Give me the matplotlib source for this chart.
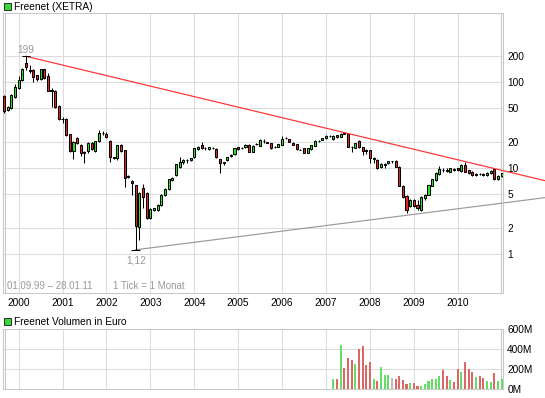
import matplotlib
matplotlib.use("Agg")
import matplotlib.pyplot as plt
import numpy as np
from matplotlib.patches import Rectangle

plt.rcParams['font.family'] = ['Liberation Sans', 'DejaVu Sans']

# ---------------- data (monthly candles, Sep 1999 - Jan 2011) ----------------
start_year, start_month = 1999, 9
opens = [68.7, 47.2, 50.3, 67.5, 84.4, 105.5, 164.9, 138, 138, 120.6,
         107.4, 140.4, 117.4, 80, 78.6, 52.6, 37.5, 37.6, 24.9, 15.8,
         22.1, 18.5, 15.0, 15.8, 19.4, 15.9, 20.8, 25.5, 24.6, 20.4,
         13.3, 12.95, 18.5, 16.2, 7.79, 7.06, 6.34, 2.04, 5.80, 5.08,
         2.60, 3.25, 3.25, 3.71, 4.85, 5.65, 7.25, 8.22, 10.4, 11.6,
         12.4, 12.4, 13.3, 16.5, 18.5, 17.2, 16.5, 16.9, 16.5, 12.6,
         11.3, 12.4, 13.8, 14.4, 17.4, 17.0, 17.4, 18.5, 15.5, 18.8,
         18.0, 20.8, 19.8, 19.4, 17.6, 17.7, 18.5, 22.1, 21.5, 19.7,
         18.8, 16.4, 16.9, 15.1, 16.5, 18.0, 20.6, 21.2, 22.1, 23.6,
         21.5, 24.2, 23.1, 25.3, 24.9, 17.7, 17.2, 20.8, 17.4, 16.1,
         16.2, 12.7, 12.4, 10.3, 10.9, 11.3, 12.0, 12.1, 10.4, 6.18,
         4.72, 3.61, 4.25, 3.71, 3.25, 4.44, 4.85, 6.23, 7.25, 8.51,
         9.55, 9.6, 9.07, 9.7, 9.9, 9.23, 10.8, 9.48, 9.07, 8.4,
         8.55, 8.6, 8.29, 8.67, 9.65, 7.38, 8.07]
highs = [70, 52, 72, 94, 117, 145, 199, 157.7, 140, 122,
         142, 142, 126, 85, 80, 54, 39.5, 38, 25, 20.5,
         23, 19, 15.8, 20, 19.8, 20.8, 27.7, 27.2, 26.5, 21,
         13.5, 18.7, 19, 16.4, 8.3, 7.2, 6.4, 5.3, 6.46, 5.2,
         3.4, 3.45, 3.8, 5.0, 5.8, 7.5, 7.9, 11.2, 13.5, 12.6,
         12.6, 13.1, 17.2, 18.0, 19.9, 17.6, 17.7, 17.4, 16.9, 12.8,
         11.85, 13.5, 14.4, 17.2, 17.7, 17.7, 18.8, 18.8, 18.3, 19.4,
         21.5, 21.6, 19.9, 19.7, 18.0, 19.2, 23.8, 22.9, 21.8, 19.9,
         19.0, 16.8, 17.0, 17.1, 18.7, 21.0, 21.0, 22.4, 24.0, 24.0,
         23.9, 24.5, 25.2, 25.8, 25.3, 17.8, 19.7, 21.0, 17.6, 16.8,
         16.4, 13.3, 12.6, 11.3, 11.3, 12.2, 12.2, 12.3, 10.5, 6.3,
         4.8, 4.35, 4.35, 4.25, 4.7, 5.0, 6.4, 7.5, 9.0, 10.55,
         9.9, 9.9, 10.1, 9.9, 10.0, 11.0, 11.85, 9.6, 9.2, 8.8,
         8.7, 8.75, 8.9, 9.5, 9.8, 8.2, 8.8]
lows = [43.2, 46, 48, 66, 83, 104, 138, 128, 101, 104,
        105, 108, 78, 51, 50, 36, 33.1, 23.5, 15.5, 12.6,
        19, 13.8, 11.3, 15, 16, 15.5, 20, 24.2, 22.4, 11.85,
        12.6, 12.5, 15.5, 6.07, 7.6, 4.85, 1.12, 1.45, 3.40, 2.55,
        2.55, 3.2, 3.2, 3.6, 4.7, 5.5, 7.0, 8.1, 10.0, 11.0,
        11.3, 12.2, 13.0, 16.2, 16.5, 16.2, 16.2, 16.5, 13.0, 8.83,
        10.8, 12.2, 13.6, 14.2, 16.2, 16.8, 17.2, 15.3, 15.3, 18.5,
        17.8, 19.7, 19.5, 16.7, 17.2, 17.5, 18.3, 21.8, 20.0, 18.3,
        16.3, 16.0, 14.9, 14.9, 16.3, 17.8, 20.2, 21.0, 21.9, 23.0,
        21.2, 22.5, 22.9, 24.8, 17.5, 15.5, 17.0, 17.2, 14.2, 14.5,
        11.3, 11.3, 9.65, 10.1, 9.9, 11.1, 11.3, 10.2, 6.1, 4.5,
        2.97, 3.5, 3.5, 3.25, 3.2, 4.3, 4.8, 6.1, 7.1, 8.4,
        9.1, 9.0, 8.9, 9.3, 9.3, 9.1, 8.9, 8.5, 8.1, 8.0,
        8.2, 8.0, 8.1, 8.5, 7.3, 7.3, 7.9]
closes = [46.4, 50.7, 70.6, 88.2, 105.5, 141.6, 148, 136, 115, 107.4,
          140.4, 110.3, 79.3, 78, 51.7, 36.8, 37, 24.2, 15.9, 20,
          19.4, 14.8, 15.3, 19.7, 16.5, 20.4, 25.8, 25.2, 22.7, 13.3,
          13.0, 18.5, 15.9, 7.58, 8.15, 6.63, 2.12, 5.17, 4.64, 2.60,
          3.31, 3.40, 3.71, 4.85, 5.65, 7.38, 7.72, 11.0, 11.85, 12.4,
          12.3, 12.95, 16.9, 17.7, 16.9, 17.0, 17.4, 16.9, 13.3, 11.3,
          11.6, 13.3, 14.2, 16.9, 16.5, 17.2, 18.5, 15.5, 18.0, 19.0,
          21.2, 20.5, 19.7, 16.9, 17.5, 19.0, 21.5, 22.4, 20.2, 18.5,
          16.5, 16.3, 15.1, 16.9, 18.5, 20.8, 20.7, 22.1, 23.8, 23.4,
          23.6, 22.7, 24.9, 25.1, 17.7, 17.4, 19.4, 17.4, 15.9, 15.9,
          12.95, 12.9, 10.0, 11.0, 11.1, 12.1, 12.0, 10.4, 6.2, 4.64,
          3.25, 4.25, 3.61, 3.40, 4.64, 4.85, 6.34, 7.38, 8.83, 9.65,
          9.45, 9.2, 9.91, 9.6, 9.6, 10.8, 9.07, 8.67, 8.29, 8.5,
          8.45, 8.4, 8.83, 9.31, 7.38, 8.07, 8.67]

# volume (millions of euro), monthly from Mar 2007 to Jan 2011
vol_first_index = 90
volumes = [103, 103, 443, 213, 310, 293, 253, 400, 433, 243,
           273, 103, 83, 223, 143, 143, 113, 103, 133, 93,
           53, 63, 63, 33, 33, 53, 83, 103, 103, 133,
           193, 133, 93, 73, 203, 173, 273, 203, 173, 123,
           133, 113, 83, 73, 163, 83, 103]

# trend lines (anchor points)
red_trend_x = [2000 + 2 / 12, 2011.0]
red_trend_y = [199, 9.4]
gray_trend_x = [2002 + 8 / 12, 2011.0]
gray_trend_y = [1.12, 3.9]

year_labels = [str(y) for y in range(2000, 2011)]
price_ticks = [1, 2, 5, 10, 20, 50, 100, 200]
price_tick_labels = ['1', '2', '5', '10', '20', '50', '100', '200']
vol_ticks = [0, 200, 400, 600]
vol_tick_labels = ['0M', '200M', '400M', '600M']

# ---------------- styling ----------------
W, H = 545, 398
GRID = '#dcdcdc'
BORDER = '#c8c8c8'
GREEN = '#22ee22'
RED = '#ee2222'
VGREEN = '#66dd66'
VRED = '#dd6666'
VGRAY = '#bbbbbb'
FS = 7.3

fig = plt.figure(figsize=(W / 100, H / 100), dpi=100)
fig.patch.set_facecolor('white')


def px_axes(left, top, right, bottom):
    return [left / W, 1 - bottom / H, (right - left) / W, (bottom - top) / H]


L_PX, R_PX = 3, 503
ax = fig.add_axes(px_axes(L_PX, 13, R_PX, 293))
axv = fig.add_axes(px_axes(L_PX, 329, R_PX, 389))

n = len(opens)
xs = start_year + (start_month - 1) / 12 + np.arange(n) / 12
o = np.array(opens)
h = np.array(highs)
lo = np.array(lows)
c = np.array(closes)

XL = (1999.645, 2011.03)
year_pos = np.arange(2000, 2011)

for a in (ax, axv):
    a.set_xlim(*XL)
    a.set_facecolor('white')
    for s in a.spines.values():
        s.set_color(BORDER)
        s.set_linewidth(0.75)
    a.set_xticks(year_pos)
    a.tick_params(axis='both', length=0, labelsize=FS, colors='black')
    a.yaxis.tick_right()
    for yp in year_pos:
        a.axvline(yp, color=GRID, lw=0.75, zorder=0)
    # inner double border lines
    ppy = (R_PX - L_PX) / (XL[1] - XL[0])
    a.axvline(XL[0] + 2 / ppy, color=BORDER, lw=0.75, zorder=0)
    a.axvline(XL[1] - 2 / ppy, color=BORDER, lw=0.75, zorder=0)

# main price panel
ax.set_yscale('log')
ax.set_ylim(0.352, 634)
ax.set_yticks(price_ticks)
ax.set_yticklabels(price_tick_labels)
ax.minorticks_off()
ax.tick_params(axis='y', pad=3)
ax.tick_params(axis='x', pad=3.5)
ax.set_xticklabels(year_labels)
for yv in price_ticks:
    ax.axhline(yv, color=GRID, lw=0.75, zorder=0)

body_w = 0.047
ax.vlines(xs, lo, h, color='black', lw=0.75, zorder=2)
for xi, oi, ci in zip(xs, o, c):
    bot = min(oi, ci)
    top = max(oi, ci)
    col = GREEN if ci > oi else (RED if ci < oi else 'black')
    ax.add_patch(Rectangle((xi - body_w / 2, bot), body_w, top - bot,
                           facecolor=col, edgecolor='black', lw=0.75, zorder=3))

# trend lines, extended to the right edge of the figure
x_fig_end = XL[0] + (W - L_PX) / ((R_PX - L_PX) / (XL[1] - XL[0]))


def ext_line(xp, yp, x_end):
    lx = np.log10(yp)
    slope = (lx[1] - lx[0]) / (xp[1] - xp[0])
    return [xp[0], x_end], [yp[0], 10 ** (lx[0] + slope * (x_end - xp[0]))]


rx, ry = ext_line(np.array(red_trend_x), np.array(red_trend_y), x_fig_end)
gx, gy = ext_line(np.array(gray_trend_x), np.array(gray_trend_y), x_fig_end)
ax.plot(rx, ry, color='#ff3030', lw=0.85, clip_on=False, zorder=4)
ax.plot(gx, gy, color='#999999', lw=0.85, clip_on=False, zorder=1)

# extreme markers
i_max = int(np.argmax(h))
i_min = int(np.argmin(lo))
ax.hlines(h[i_max], xs[i_max] - 0.1, xs[i_max] + 0.1, color='black', lw=0.75, zorder=4)
ax.hlines(lo[i_min], xs[i_min] - 0.1, xs[i_min] + 0.1, color='black', lw=0.75, zorder=4)
ax.annotate('199', xy=(xs[i_max], h[i_max]), xytext=(0, 2.2), textcoords='offset points',
            ha='center', va='baseline', color='#999999', fontsize=FS)
ax.annotate('1,12', xy=(xs[i_min], lo[i_min]), xytext=(0, -4.2), textcoords='offset points',
            ha='center', va='top', color='#999999', fontsize=FS)

ax.text(7 / W, 1 - 286 / H, '01.09.99 \u2013 28.01.11', transform=fig.transFigure,
        color='#999999', fontsize=7, va='center', ha='left')
ax.text(113 / W, 1 - 286 / H, '1 Tick = 1 Monat', transform=fig.transFigure,
        color='#999999', fontsize=7, va='center', ha='left')

# volume panel
axv.set_ylim(0, 600)
axv.set_yticks(vol_ticks)
axv.set_yticklabels(vol_tick_labels)
axv.tick_params(axis='y', pad=3)
axv.set_xticklabels([])
for yv in vol_ticks[1:-1]:
    axv.axhline(yv, color=GRID, lw=0.75, zorder=0)
vx = xs[vol_first_index:vol_first_index + len(volumes)]
vo = o[vol_first_index:vol_first_index + len(volumes)]
vc = c[vol_first_index:vol_first_index + len(volumes)]
vcols = [VGREEN if cc > oo else (VRED if cc < oo else VGRAY) for oo, cc in zip(vo, vc)]
axv.bar(vx, volumes, width=0.047, color=vcols, zorder=2)

# titles with legend squares
for ytop, label in ((3, 'Freenet (XETRA)'), (318, 'Freenet Volumen in Euro')):
    fig.patches.append(Rectangle((3.5 / W, 1 - (ytop + 7) / H), 7 / W, 7 / H,
                                 transform=fig.transFigure, facecolor='#33dd33',
                                 edgecolor='#333333', lw=0.75))
    fig.text(14 / W, 1 - (ytop + 4) / H, label, fontsize=FS, va='center', ha='left', color='black')

fig.savefig('out.png', dpi=100)
